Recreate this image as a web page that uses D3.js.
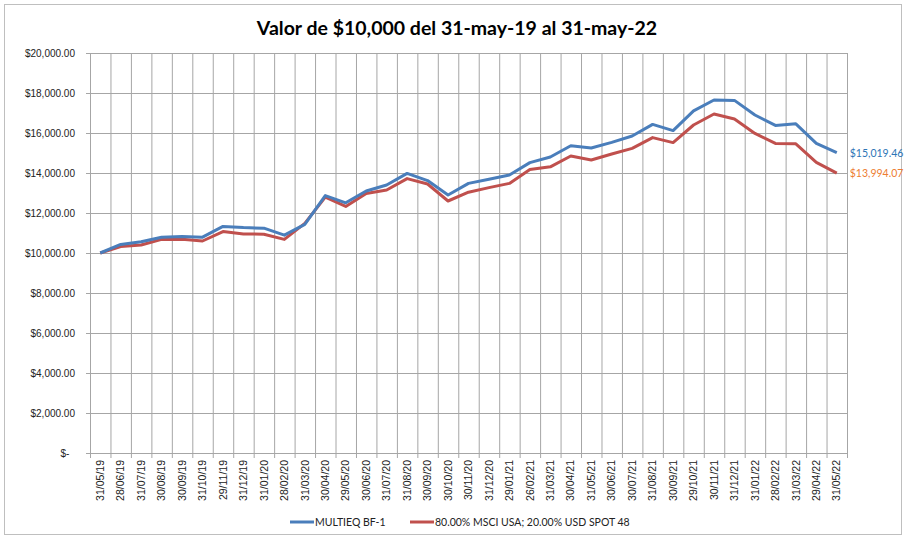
<!DOCTYPE html>
<html>
<head>
<meta charset="utf-8">
<script src="https://cdn.jsdelivr.net/npm/d3@7"></script>
<style>
  body { margin: 0; background: #fff; }
  svg { font-family: Lato, "Open Sans", sans-serif; }
</style>
</head>
<body>
<svg id="chart" width="905" height="539"></svg>
<script>
// Data
var dates = ["31/05/19","28/06/19","31/07/19","30/08/19","30/09/19","31/10/19","29/11/19","31/12/19",
  "31/01/20","28/02/20","31/03/20","30/04/20","29/05/20","30/06/20","31/07/20","31/08/20","30/09/20",
  "30/10/20","30/11/20","31/12/20","29/01/21","26/02/21","31/03/21","30/04/21","31/05/21","30/06/21",
  "30/07/21","31/08/21","30/09/21","29/10/21","30/11/21","31/12/21","31/01/22","28/02/22","31/03/22",
  "29/04/22","31/05/22"];

var fundValues = [10000,10430,10560,10790,10820,10790,11330,11270,11240,10890,11430,12870,12510,
  13100,13400,13980,13620,12900,13480,13690,13900,14520,14800,15360,15250,15530,15850,16430,16120,
  17110,17650,17630,16900,16380,16460,15480,15019.46];

var benchValues = [10000,10320,10400,10680,10690,10600,11070,10950,10940,10680,11480,12790,12330,
  12980,13150,13720,13450,12600,13040,13270,13480,14180,14310,14850,14650,14950,15230,15770,15520,
  16400,16950,16700,15980,15480,15460,14530,13994.07];

var seriesNames = ["MULTIEQ BF-1", "80.00% MSCI USA; 20.00% USD SPOT 48"];
var yTicks = [0,2000,4000,6000,8000,10000,12000,14000,16000,18000,20000];

// Layout
var margin = { top: 53, right: 58, bottom: 86, left: 90 };
var W = 905, H = 539;
var width = W - margin.left - margin.right;
var height = H - margin.top - margin.bottom;

var svg = d3.select("#chart");

// outer border
svg.append("rect")
  .attr("x", 4.5).attr("y", 4.5)
  .attr("width", 897).attr("height", 530)
  .attr("fill", "none").attr("stroke", "#bfbfbf");

// Title
svg.append("text")
  .attr("x", 457).attr("y", 35)
  .attr("text-anchor", "middle")
  .style("font-size", "19.5px").style("font-weight", "bold")
  .text("Valor de $10,000 del 31-may-19 al 31-may-22");

var g = svg.append("g").attr("transform", "translate(" + margin.left + "," + margin.top + ")");

// Scales
var x = d3.scaleBand().domain(dates).range([0, width]).padding(0);
var xEdge = d3.scaleLinear().domain([0, dates.length]).range([0, width]);
var y = d3.scaleLinear().domain([0, 20000]).range([height, 0]);
var xc = function (d) { return x(d) + x.bandwidth() / 2; };

var gridColor = "#a6a6a6";

// Horizontal gridlines
g.append("g")
  .call(d3.axisLeft(y).tickValues(yTicks).tickSize(-width).tickFormat(""))
  .call(function (s) {
    s.select(".domain").remove();
    s.selectAll("line").attr("stroke", gridColor);
  });

// Vertical gridlines at category boundaries
g.append("g")
  .call(d3.axisTop(xEdge).tickValues(d3.range(dates.length + 1)).tickSize(-height).tickFormat(""))
  .call(function (s) {
    s.select(".domain").remove();
    s.selectAll("line").attr("stroke", gridColor);
  });

// Y axis
g.append("g")
  .call(d3.axisLeft(y).tickValues(yTicks).tickSize(4).tickPadding(11)
    .tickFormat(function (v) { return v === 0 ? "$-\u00a0\u00a0" : "$" + d3.format(",.2f")(v); }))
  .call(function (s) {
    s.select(".domain").attr("stroke", gridColor);
    s.selectAll("line").attr("stroke", gridColor);
    s.selectAll("text").style("font-size", "10px").attr("fill", "#222");
  });

// X axis tick marks at boundaries
g.append("g")
  .attr("transform", "translate(0," + height + ")")
  .call(d3.axisBottom(xEdge).tickValues(d3.range(dates.length + 1)).tickSize(5).tickFormat(""))
  .call(function (s) {
    s.select(".domain").attr("stroke", gridColor);
    s.selectAll("line").attr("stroke", gridColor);
  });

// X axis labels (rotated)
g.append("g")
  .attr("transform", "translate(0," + height + ")")
  .call(d3.axisBottom(x).tickSize(0).tickPadding(0))
  .call(function (s) {
    s.select(".domain").remove();
    s.selectAll("text")
      .style("font-size", "10.5px").attr("fill", "#222")
      .attr("text-anchor", "end")
      .attr("transform", "rotate(-90)")
      .attr("x", -7).attr("y", 0).attr("dy", "0.35em");
  });

// Lines
var line = function (vals) {
  return d3.line()
    .x(function (d, i) { return xc(dates[i]); })
    .y(function (d) { return y(d); })(vals);
};

g.append("path").attr("d", line(benchValues))
  .attr("fill", "none").attr("stroke", "#c0504d").attr("stroke-width", 3)
  .attr("stroke-linejoin", "round");
g.append("path").attr("d", line(fundValues))
  .attr("fill", "none").attr("stroke", "#4a7ebb").attr("stroke-width", 3)
  .attr("stroke-linejoin", "round");

// End labels
var lastDate = dates[dates.length - 1];
g.append("text")
  .attr("x", xc(lastDate) + 13).attr("y", y(fundValues[fundValues.length - 1]) + 4)
  .style("font-size", "10.5px").attr("fill", "#2e75b6")
  .text("$" + d3.format(",.2f")(fundValues[fundValues.length - 1]));
g.append("text")
  .attr("x", xc(lastDate) + 13).attr("y", y(benchValues[benchValues.length - 1]) + 4)
  .style("font-size", "10.5px").attr("fill", "#ed7d31")
  .text("$" + d3.format(",.2f")(benchValues[benchValues.length - 1]));

// Legend
var legend = svg.append("g").attr("transform", "translate(0,522)");
var legendItems = [
  { name: seriesNames[0], color: "#4a7ebb", x: 290 },
  { name: seriesNames[1], color: "#c0504d", x: 410 }
];
legendItems.forEach(function (d) {
  legend.append("line")
    .attr("x1", d.x).attr("x2", d.x + 24)
    .attr("y1", 0).attr("y2", 0)
    .attr("stroke", d.color).attr("stroke-width", 3);
  legend.append("text")
    .attr("x", d.x + 25).attr("y", 0).attr("dy", "0.35em")
    .style("font-size", "10.5px").attr("fill", "#222")
    .text(d.name);
});
</script>
</body>
</html>
